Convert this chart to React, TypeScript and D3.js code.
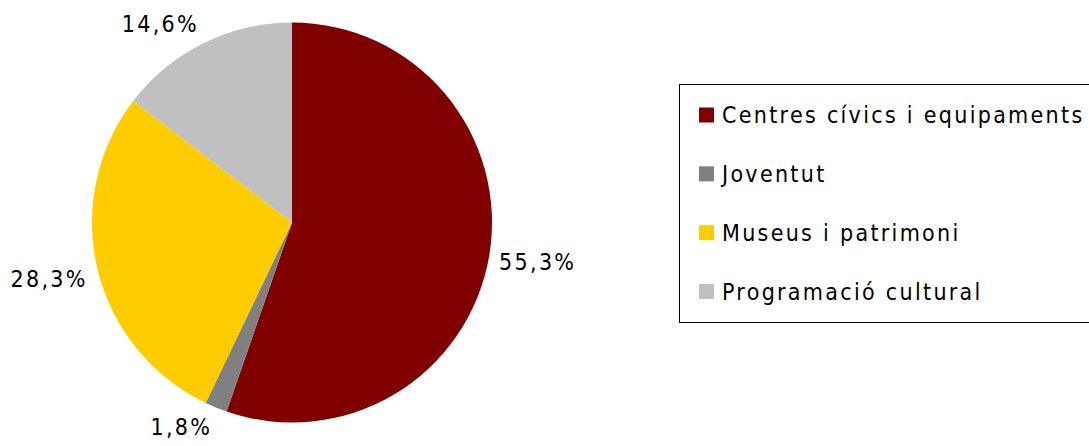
import React, { useEffect, useRef } from "react";
import * as d3 from "d3";

const categories = ["Centres cívics i equipaments", "Joventut", "Museus i patrimoni", "Programació cultural"];
const values = [55.3, 1.8, 28.3, 14.6];
const labels = ["55,3%", "1,8%", "28,3%", "14,6%"];
const colors = ["#800000", "#808080", "#FFCC00", "#C0C0C0"];

const W = 1089;
const H = 446;
const CX = 292;
const CY = 222.5;
const R = 200;
const FONT = "'DejaVu Sans Condensed', 'DejaVu Sans', Verdana, sans-serif";
const FS = 23;
const LS = 2.3;

export default function App() {
  const ref = useRef<SVGSVGElement>(null);

  useEffect(() => {
    const svg = d3.select(ref.current);
    svg.selectAll("*").remove();

    const data = categories.map((c, i) => ({ c, v: values[i], label: labels[i], color: colors[i] }));
    const pie = d3.pie<any>().value((d) => d.v).sort(null);
    const arcs = pie(data);
    const arc = d3.arc<any>().innerRadius(0).outerRadius(R);

    const g = svg.append("g").attr("transform", `translate(${CX},${CY})`);
    g.selectAll("path")
      .data(arcs)
      .join("path")
      .attr("d", arc as any)
      .attr("fill", (d: any) => d.data.color);

    const gap = 10;
    const clamp = (v: number) => Math.max(-1, Math.min(1, v));
    arcs.forEach((a: any) => {
      const mid = (a.startAngle + a.endAngle) / 2;
      const dx = Math.sin(mid);
      const dy = -Math.cos(mid);
      const px = dx * (R + gap);
      const py = dy * (R + gap);
      const t = g
        .append("text")
        .attr("font-family", FONT)
        .attr("font-size", FS)
        .attr("letter-spacing", LS)
        .attr("fill", "#000")
        .attr("text-anchor", "middle")
        .attr("dominant-baseline", "central")
        .text(a.data.label);
      const bb = (t.node() as SVGTextElement).getBBox();
      const hw = bb.width / 2;
      const hh = 10;
      const cx = px + clamp(dx * 3) * hw;
      const cy = py + clamp(dy * 3) * hh;
      t.attr("x", cx).attr("y", cy);
    });

    const lx = 679.5;
    const ly = 84.5;
    const lh = 238;
    const leg = svg.append("g");
    leg
      .append("rect")
      .attr("x", lx)
      .attr("y", ly)
      .attr("width", W - lx + 20)
      .attr("height", lh)
      .attr("fill", "#fff")
      .attr("stroke", "#000")
      .attr("stroke-width", 1);

    const rowY = d3.scaleLinear().domain([0, 3]).range([115, 291.5]);
    data.forEach((d, i) => {
      const y = rowY(i);
      leg
        .append("rect")
        .attr("x", 699)
        .attr("y", y - 7.5)
        .attr("width", 15)
        .attr("height", 15)
        .attr("fill", d.color);
      leg
        .append("text")
        .attr("x", 722)
        .attr("y", y)
        .attr("dominant-baseline", "central")
        .attr("font-family", FONT)
        .attr("font-size", FS)
        .attr("letter-spacing", LS)
        .attr("fill", "#000")
        .text(d.c);
    });
  }, []);

  return (
    <svg
      ref={ref}
      width={W}
      height={H}
      style={{ position: "absolute", left: 0, top: 0, background: "#fff" }}
    />
  );
}
